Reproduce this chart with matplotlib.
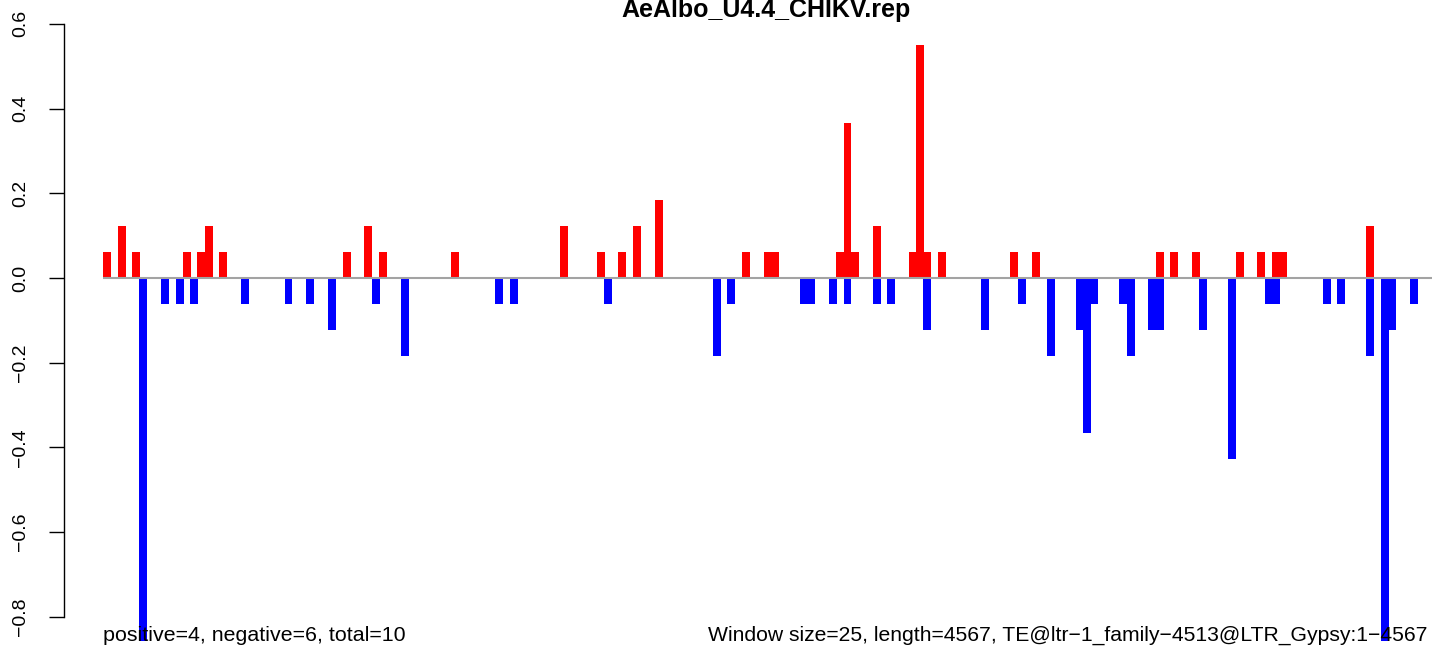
import numpy as np
import matplotlib
matplotlib.use("Agg")
import matplotlib.pyplot as plt

plt.rcParams['font.family'] = ['Liberation Sans', 'DejaVu Sans']

title = "AeAlbo_U4.4_CHIKV.rep"
n_windows = 183
# window index and value of the red (positive) bars
pos_idx = [0, 2, 4, 11, 13, 14, 16, 33, 36, 38, 48, 63, 68, 71, 73, 76, 88, 91, 92,
           101, 102, 103, 106, 111, 112, 113, 115, 125, 128, 145, 147, 150, 156, 159,
           161, 162, 174]
pos_val = [0.061, 0.122, 0.061, 0.061, 0.061, 0.122, 0.061, 0.061, 0.122, 0.061, 0.061,
           0.122, 0.061, 0.061, 0.122, 0.184, 0.061, 0.061, 0.061,
           0.061, 0.367, 0.061, 0.122, 0.061, 0.551, 0.061, 0.061, 0.061, 0.061, 0.061,
           0.061, 0.061, 0.061, 0.061, 0.061, 0.061, 0.122]
# window index and value of the blue (negative) bars
neg_idx = [5, 8, 10, 12, 19, 25, 28, 31, 37, 41, 54, 56, 69, 84, 86, 96, 97, 100, 102,
           106, 108, 113, 121, 126, 130, 134, 135, 136, 140, 141, 144, 145, 151, 155,
           160, 161, 168, 170, 174, 176, 177, 180]
neg_val = [-0.857, -0.061, -0.061, -0.061, -0.061, -0.061, -0.061, -0.122, -0.061, -0.184,
           -0.061, -0.061, -0.061, -0.184, -0.061, -0.061, -0.061, -0.061, -0.061,
           -0.061, -0.061, -0.122, -0.122, -0.061, -0.184, -0.122, -0.367, -0.061,
           -0.061, -0.184, -0.122, -0.122, -0.122, -0.428,
           -0.061, -0.061, -0.061, -0.061, -0.184, -0.857, -0.122, -0.061]
yticks = [-0.8, -0.6, -0.4, -0.2, 0.0, 0.2, 0.4, 0.6]
ytick_labels = ["\u22120.8", "\u22120.6", "\u22120.4", "\u22120.2", "0.0", "0.2", "0.4", "0.6"]
left_note = "positive=4, negative=6, total=10"
right_note = "Window size=25, length=4567, TE@ltr\u22121_family\u22124513@LTR_Gypsy:1\u22124567"

W, H = 1433, 647
fig = plt.figure(figsize=(W / 100, H / 100), dpi=100)
ax = fig.add_axes([63.6 / W, 0, 1 - 63.6 / W, 1 - 23.8 / H])

ax.bar(pos_idx, pos_val, width=1.1, align='edge', color='#ff0000', linewidth=0)
ax.bar(neg_idx, neg_val, width=1.1, align='edge', color='#0000ff', linewidth=0)
ax.hlines(0, 0, n_windows, color='#a3a3a3', linewidth=1.5, zorder=3)

ax.set_xlim(-5.43, 183.2)
ax.set_ylim(-0.871, 0.6)
for s in ['top', 'right', 'bottom']:
    ax.spines[s].set_visible(False)
ax.spines['left'].set_bounds(-0.8, 0.6)
ax.spines['left'].set_linewidth(1)
ax.set_xticks([])
ax.set_yticks(yticks)
ax.set_yticklabels(ytick_labels, rotation=90, va='center')
ax.tick_params(axis='y', length=11, width=1, pad=14, labelsize=14)

fig.text(766 / W, 1 - 10 / H, title, ha='center', va='center', fontsize=18, fontweight='bold')
fig.text(103 / W, 1 - 641 / H, left_note, ha='left', va='baseline', fontsize=15.4)
fig.text(1428 / W, 1 - 641 / H, right_note, ha='right', va='baseline', fontsize=15.2)

fig.savefig("out.png", dpi=100)
